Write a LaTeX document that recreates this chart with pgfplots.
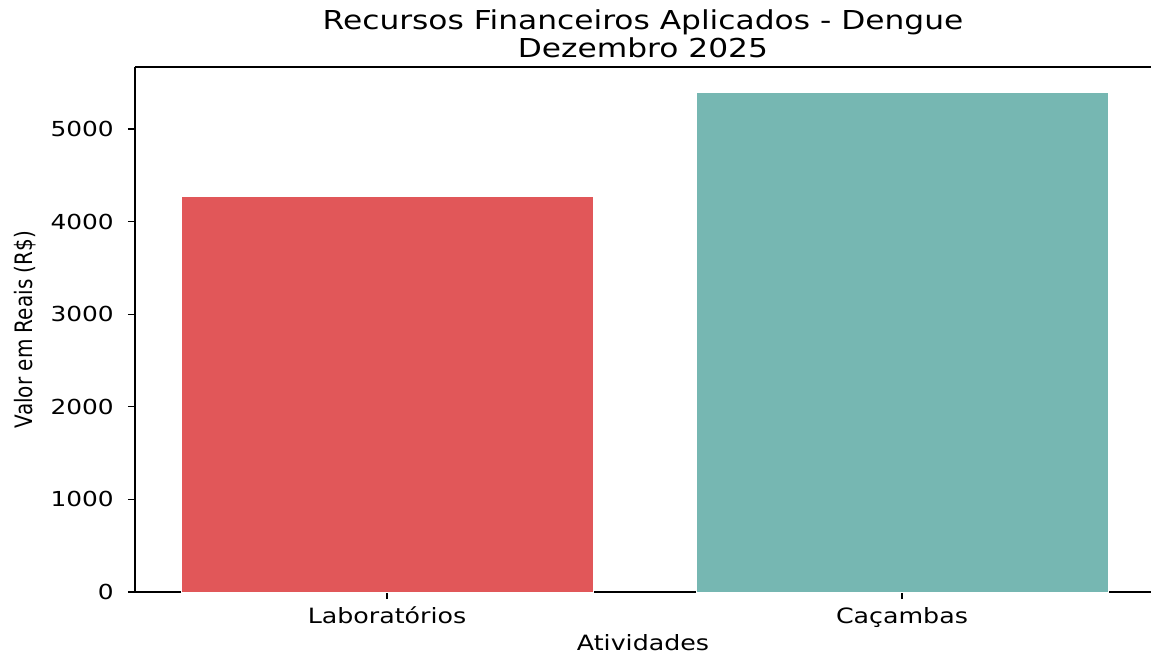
\documentclass[border=0pt]{standalone}
\usepackage{pgfplots}
\pgfplotsset{compat=1.18}
\usepackage{fontspec}
\setmainfont{DejaVu Sans}[FakeStretch=1.2]
\newfontfamily\ylabfont{DejaVu Sans}[FakeStretch=0.8333]
\definecolor{cred}{HTML}{E15759}
\definecolor{cteal}{HTML}{76B7B2}
\begin{document}
\begin{tikzpicture}
\path[use as bounding box] (-101.25pt,-50.25pt) rectangle (762pt,444pt);
\begin{axis}[
  at={(0pt,0pt)}, anchor=south west,
  scale only axis, width=762pt, height=393.75pt,
  xmin=-0.4893, xmax=1.4835, ymin=0, ymax=5670,
  axis x line=box, axis y line=left,
  x axis line style={-}, y axis line style={-},
  axis line style={line width=0.9pt, black},
  xtick={0,1}, xticklabels={Laboratórios, Caçambas},
  ytick={0,1000,2000,3000,4000,5000},
  xtick pos=bottom,
  tick align=outside,
  major tick length=5.25pt,
  tick style={black, line width=0.8pt},
  /pgf/number format/assume math mode=true,
  /pgf/number format/1000 sep={},
  scaled y ticks=false,
  tick label style={font=\fontsize{15.5}{18}\selectfont},
  xticklabel style={anchor=base, inner sep=0pt, yshift=-18pt, font=\fontsize{15.8}{18}\selectfont},
  yticklabel style={anchor=east, inner sep=0pt, xshift=-10.5pt},
  title={Recursos Financeiros Aplicados - Dengue\\Dezembro 2025},
  title style={at={(axis description cs:0.5,1.0019)}, anchor=base, align=center, font=\fontsize{19.55}{21.5}\selectfont, inner sep=0pt},
  xlabel={Atividades},
  xlabel style={at={(axis description cs:0.5,-0.1105)}, anchor=base, inner sep=0pt, font=\fontsize{15.8}{18}\selectfont},
  ylabel={\ylabfont Valor em Reais (R\$)},
  ylabel style={at={(axis description cs:-0.1083,0.5)}, anchor=center, inner sep=0pt, font=\fontsize{18}{20}\selectfont},
]
\addplot[ybar, bar width=0.8, bar shift=0pt, fill=cred, draw=white, line width=0.4pt] coordinates {(0,4275)};
\addplot[ybar, bar width=0.8, bar shift=0pt, fill=cteal, draw=white, line width=0.4pt] coordinates {(1,5400)};
\end{axis}
\end{tikzpicture}
\end{document}
